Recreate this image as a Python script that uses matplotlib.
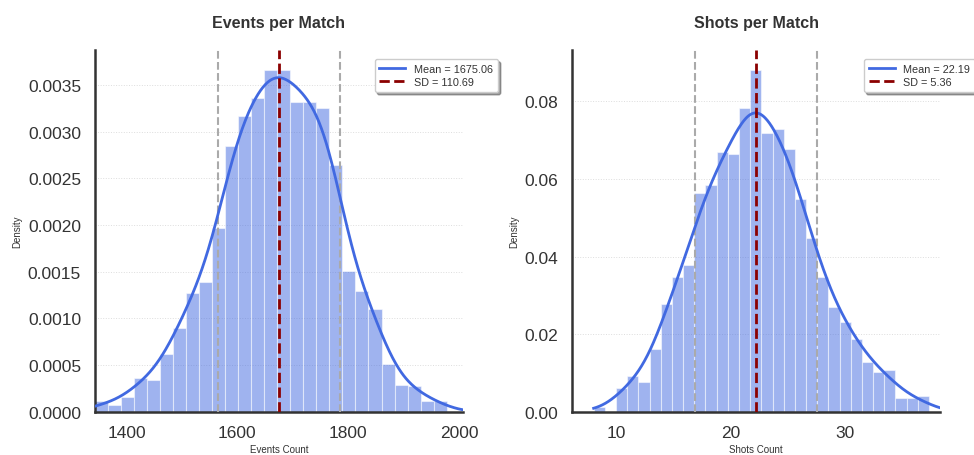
import numpy as np
import matplotlib
matplotlib.use("Agg")
import matplotlib.pyplot as plt

plt.rcParams['font.family'] = ['Liberation Sans', 'DejaVu Sans']

# ---------------- data ----------------
titles = ["Events per Match", "Shots per Match"]
xlabels = ["Events Count", "Shots Count"]

events_mean = 1675.06
events_sd = 110.69
events_bin_start = 1342.0
events_bin_width = 23.55
events_heights = [0.000118, 0.000072, 0.000161, 0.000358, 0.000340, 0.000618,
                  0.000900, 0.001270, 0.001386, 0.001968, 0.002843, 0.003165,
                  0.003357, 0.003664, 0.003664, 0.003321, 0.003321, 0.003250,
                  0.002646, 0.001510, 0.001290, 0.001100, 0.000511, 0.000289,
                  0.000272, 0.000118, 0.000118]
events_xticks = [1400, 1600, 1800, 2000]
events_yticks = [0.0, 0.0005, 0.0010, 0.0015, 0.0020, 0.0025, 0.0030, 0.0035]

shots_mean = 22.19
shots_sd = 5.36
shots_bin_start = 8.0
shots_bin_width = 0.977
shots_heights = [0.00113, 0.0, 0.0061, 0.0092, 0.0076, 0.01616, 0.02776, 0.03464,
                 0.0378, 0.05637, 0.05843, 0.06701, 0.06642, 0.0782, 0.08814,
                 0.07175, 0.07286, 0.0677, 0.05482, 0.04477, 0.03464, 0.0269,
                 0.02304, 0.01874, 0.01289, 0.01031, 0.01082, 0.00345, 0.00345,
                 0.00412]
shots_xticks = [10, 20, 30]
shots_yticks = [0.00, 0.02, 0.04, 0.06, 0.08]

kde_factor = 0.29  # Scott-like bandwidth factor


def weighted_kde(start, width, heights, grid, factor):
    h = np.asarray(heights, float)
    centers = start + width * (np.arange(len(h)) + 0.5)
    w = h / h.sum()
    mu = np.sum(w * centers)
    sd = np.sqrt(np.sum(w * (centers - mu) ** 2) + width ** 2 / 12)
    bw = factor * sd
    z = (grid[:, None] - centers[None, :]) / bw
    return (np.exp(-0.5 * z ** 2) * w[None, :]).sum(axis=1) / (bw * np.sqrt(2 * np.pi))


fig = plt.figure(figsize=(9.74, 4.56), dpi=100)
ax_w = 368 / 974
ax_h = 361.7 / 456
ax_b = (456 - 412.7) / 456
axes = [fig.add_axes([95 / 974, ax_b, ax_w, ax_h]),
        fig.add_axes([572 / 974, ax_b, ax_w, ax_h])]

panels = [
    (events_mean, events_sd, events_bin_start, events_bin_width, events_heights,
     events_xticks, events_yticks, "{:.4f}"),
    (shots_mean, shots_sd, shots_bin_start, shots_bin_width, shots_heights,
     shots_xticks, shots_yticks, "{:.2f}"),
]

text_col = '#333333'
for ax, title, xlab, (mean, sd, start, width, heights, xt, yt, fmt) in zip(
        axes, titles, xlabels, panels):
    n = len(heights)
    lefts = start + width * np.arange(n)
    ax.bar(lefts, heights, width=width, align='edge', color='royalblue',
           alpha=0.5, edgecolor='white', linewidth=0.8, zorder=2)
    xmin, xmax = mean - 3 * sd, mean + 3 * sd
    grid = np.linspace(start, xmax + 2 * width, 500)
    dens = weighted_kde(start, width, heights, grid, kde_factor)
    kde_line, = ax.plot(grid, dens, color='royalblue', lw=2, zorder=4)
    mean_line = ax.axvline(mean, color='darkred', ls='--', lw=2, zorder=5)
    ax.axvline(mean - sd, color='#aaaaaa', ls='--', lw=1.5, zorder=3)
    ax.axvline(mean + sd, color='#aaaaaa', ls='--', lw=1.5, zorder=3)

    ax.set_xlim(xmin, xmax)
    ax.set_ylim(0, max(heights) * 1.058)
    ax.set_xticks(xt)
    ax.set_yticks(yt)
    ax.set_yticklabels([fmt.format(v) for v in yt])
    ax.tick_params(axis='both', length=0, labelsize=12.5, colors=text_col)
    ax.tick_params(axis='x', pad=9.5)
    ax.tick_params(axis='y', pad=10)

    ax.yaxis.grid(True, color='#dddddd', ls=':', lw=0.7, zorder=0)
    ax.set_axisbelow(True)
    for s in ['top', 'right']:
        ax.spines[s].set_visible(False)
    for s in ['left', 'bottom']:
        ax.spines[s].set_color('#333333')
        ax.spines[s].set_linewidth(1.8)

    ax.set_title(title, fontsize=11.5, fontweight='bold', color=text_col, pad=16.5)
    ax.set_ylabel('Density', fontsize=7, color=text_col, labelpad=4)
    ax.set_xlabel(xlab, fontsize=7, color=text_col, labelpad=3)

    leg = ax.legend([kde_line, mean_line],
                    [f'Mean = {mean:.2f}', f'SD = {sd:.2f}'],
                    loc='upper right', bbox_to_anchor=(1.095, 0.975),
                    borderaxespad=0, fontsize=7.8, frameon=True, shadow=True,
                    fancybox=True, framealpha=1, edgecolor='#cccccc',
                    handlelength=2.4, labelspacing=0.3, borderpad=0.45)
    for t in leg.get_texts():
        t.set_color(text_col)

fig.savefig('out.png', dpi=100)
